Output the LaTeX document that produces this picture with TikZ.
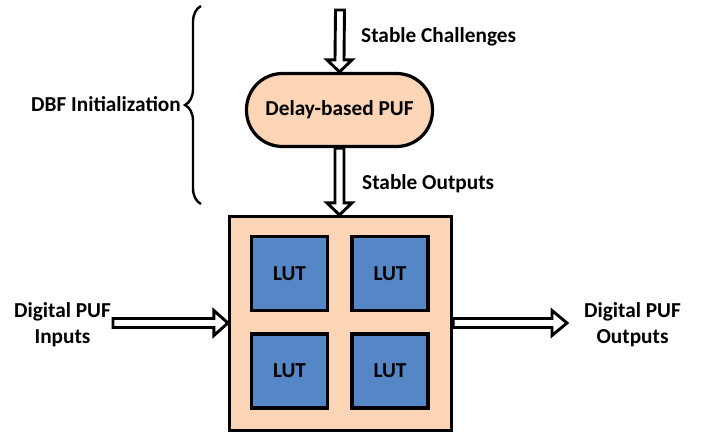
\documentclass[tikz,border=0pt]{standalone}
\usepackage{fontspec}
\setmainfont{Carlito}
\usetikzlibrary{calc,decorations.pathreplacing}
\definecolor{peach}{HTML}{FBD5B5}
\definecolor{lutblue}{HTML}{5586C6}
\tikzset{
  lbl/.style={inner sep=0pt, font=\fontsize{21.3}{26}\selectfont\bfseries},
  fabric/.style={draw, line width=3.2pt, fill=peach, minimum width=222pt, minimum height=214pt, inner sep=0pt},
  lut/.style={draw, line width=3.2pt, fill=lutblue, minimum width=76pt, minimum height=74pt, inner sep=0pt,
              font=\fontsize{21.3}{26}\selectfont\bfseries},
  pufbox/.style={draw, line width=3.2pt, fill=peach, minimum width=186pt, minimum height=73pt,
                 rounded corners=36pt, inner sep=0pt, font=\fontsize{21.3}{26}\selectfont\bfseries},
  blk/.style={draw, line width=2.9pt, fill=white, line join=miter},
  bracket/.style={draw, line width=2.4pt, decorate, decoration={brace, amplitude=16pt}},
}
\begin{document}
\begin{tikzpicture}[x=1pt,y=1pt]
\useasboundingbox (0,0) rectangle (706,434);

% FPGA fabric with its four look-up tables
\node[fabric] (fab) at (340.5,110.5) {};
\node[lut] (lut1) at (289.5,160.5) {LUT};
\node[lut] (lut2) at (390,160.5) {LUT};
\node[lut] (lut3) at (289.5,63) {LUT};
\node[lut] (lut4) at (390,63) {LUT};

% delay-based PUF
\node[pufbox] (puf) at (339.5,324) {Delay-based PUF};

% labels
\node[lbl, anchor=west] (chal) at (361,397) {Stable Challenges};
\node[lbl, anchor=west] (sout) at (362,250) {Stable Outputs};
\node[lbl, anchor=east] (dbf) at (181,330) {DBF Initialization};
\node[lbl, align=center] (din) at (62.5,109) {Digital PUF\\Inputs};
\node[lbl, align=center] (dout) at (632.5,109) {Digital PUF\\Outputs};

% free ends of the block arrows
\coordinate (cin) at (340,424);
\coordinate (inL) at (113,111);
\coordinate (outR) at (567,111);
\coordinate (fin) at (fab.north -| puf.south);

% challenges into the PUF
\draw[blk] ([xshift=-4.5pt]cin) -- ([xshift=-4.5pt,yshift=12pt]puf.north)
  -- ([xshift=-12.5pt,yshift=12pt]puf.north) -- (puf.north)
  -- ([xshift=12.5pt,yshift=12pt]puf.north) -- ([xshift=4.5pt,yshift=12pt]puf.north)
  -- ([xshift=4.5pt]cin) -- cycle;

% PUF outputs into the fabric
\draw[blk] ([xshift=-4.5pt]puf.south) -- ([xshift=-4.5pt,yshift=12pt]fin)
  -- ([xshift=-12.5pt,yshift=12pt]fin) -- (fin)
  -- ([xshift=12.5pt,yshift=12pt]fin) -- ([xshift=4.5pt,yshift=12pt]fin)
  -- ([xshift=4.5pt]puf.south) -- cycle;

% digital inputs
\coordinate (inT) at (fab.west |- inL);
\draw[blk] ([yshift=4.5pt]inL) -- ([xshift=-14pt,yshift=4.5pt]inT)
  -- ([xshift=-14pt,yshift=12.5pt]inT) -- (inT)
  -- ([xshift=-14pt,yshift=-12.5pt]inT) -- ([xshift=-14pt,yshift=-4.5pt]inT)
  -- ([yshift=-4.5pt]inL) -- cycle;

% digital outputs
\coordinate (outS) at (fab.east |- outR);
\draw[blk] ([yshift=4.5pt]outS) -- ([xshift=-15pt,yshift=4.5pt]outR)
  -- ([xshift=-15pt,yshift=12.5pt]outR) -- (outR)
  -- ([xshift=-15pt,yshift=-12.5pt]outR) -- ([xshift=-15pt,yshift=-4.5pt]outR)
  -- ([yshift=-4.5pt]outS) -- cycle;

% initialization phase brace
\draw[bracket] (201,230) -- (201,428);
\end{tikzpicture}
\end{document}
